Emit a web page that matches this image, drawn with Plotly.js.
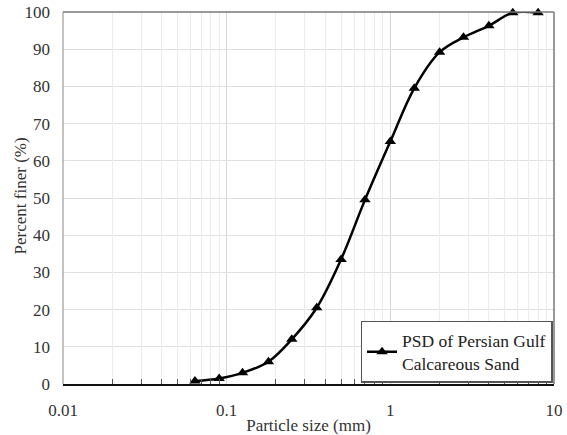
<!DOCTYPE html>
<html>
<head>
<meta charset="utf-8">
<script src="https://cdn.plot.ly/plotly-3.0.1.min.js"></script>
<style>html,body{margin:0;padding:0;background:#fff;}#chart{width:567px;height:435px;}</style>
</head>
<body>
<div id="chart"></div>
<script>
const particleSize = [0.064, 0.09, 0.125, 0.18, 0.25, 0.355, 0.5, 0.7, 1.0, 1.4, 2.0, 2.8, 4.0, 5.6, 8.0];
const percentFiner = [0.8, 1.5, 3.0, 6.0, 12.0, 20.5, 33.5, 49.5, 65.2, 79.5, 89.2, 93.2, 96.3, 99.8, 99.8];
const seriesName = "PSD of Persian Gulf<br>Calcareous Sand";
const xMajorVals = [0.01, 0.1, 1, 10];
const xMajorText = ["0.01", "0.1", "1", "10"];
const xMinorVals = [0.02, 0.03, 0.04, 0.05, 0.06, 0.07, 0.08, 0.09,
                    0.2, 0.3, 0.4, 0.5, 0.6, 0.7, 0.8, 0.9,
                    2, 3, 4, 5, 6, 7, 8, 9];
const yTickVals = [0, 10, 20, 30, 40, 50, 60, 70, 80, 90, 100];
const xTitle = "Particle size (mm)";
const yTitle = "Percent finer (%)";

const font = "Liberation Serif, 'Times New Roman', serif";

const trace = {
  x: particleSize,
  y: percentFiner,
  name: seriesName,
  type: "scatter",
  mode: "lines+markers",
  cliponaxis: false,
  line: {color: "#000", width: 2.5, shape: "spline", smoothing: 1},
  marker: {symbol: "triangle-up", size: 10, color: "#000"},
  showlegend: true
};

// invisible helper trace carrying the minor-grid axis
const helper = {
  x: particleSize, y: percentFiner, xaxis: "x2", yaxis: "y",
  type: "scatter", mode: "markers", marker: {opacity: 0, size: 1},
  hoverinfo: "skip", showlegend: false
};

const layout = {
  width: 567, height: 435,
  margin: {l: 63, r: 13, t: 12, b: 51},
  paper_bgcolor: "#fff", plot_bgcolor: "#fff",
  font: {family: font, size: 17, color: "#333"},
  xaxis2: {
    type: "log", range: [-2, 1], overlaying: "x", side: "bottom",
    tickvals: xMinorVals, showticklabels: false,
    ticks: "inside", ticklen: 5, tickcolor: "#555", tickwidth: 1,
    showgrid: true, gridcolor: "#ececec", gridwidth: 1,
    showline: false, zeroline: false
  },
  xaxis: {
    type: "log", range: [-2, 1],
    tickvals: xMajorVals, ticktext: xMajorText,
    ticks: "", showline: true, linecolor: "#111", linewidth: 1.5,
    showgrid: true, gridcolor: "#d6d6d6", gridwidth: 1,
    zeroline: false, ticklabelstandoff: 10,
    tickfont: {family: font, size: 17, color: "#333"},
    title: {text: xTitle, font: {family: font, size: 17, color: "#333"}, standoff: 2}
  },
  yaxis: {
    range: [0, 100], tickvals: yTickVals,
    ticks: "", showline: false,
    showgrid: true, gridcolor: "#e0e0e0", gridwidth: 1,
    zeroline: false, ticklabelstandoff: 12,
    tickfont: {family: font, size: 17, color: "#333"}
  },
  annotations: [
    {text: yTitle, xref: "paper", yref: "paper", x: -0.087, y: 0.505,
     xanchor: "center", yanchor: "middle", textangle: -90, showarrow: false,
     font: {family: font, size: 17, color: "#333"}}
  ],
  shapes: [
    {type: "line", xref: "paper", yref: "paper", x0: 0, x1: 1, y0: 1, y1: 1, line: {color: "#777", width: 1.5}},
    {type: "line", xref: "paper", yref: "paper", x0: 0, x1: 0, y0: 0, y1: 1, line: {color: "#888", width: 1}},
    {type: "line", xref: "paper", yref: "paper", x0: 1, x1: 1, y0: 0, y1: 1, line: {color: "#777", width: 1.5}}
  ],
  legend: {
    x: 0.997, y: 0.003, xanchor: "right", yanchor: "bottom",
    bgcolor: "#fff", bordercolor: "#555", borderwidth: 1.5,
    font: {family: font, size: 17.5, color: "#222"},
    itemwidth: 30
  },
  showlegend: true
};

Plotly.newPlot("chart", [helper, trace], layout, {displayModeBar: false, staticPlot: true});
</script>
</body>
</html>
